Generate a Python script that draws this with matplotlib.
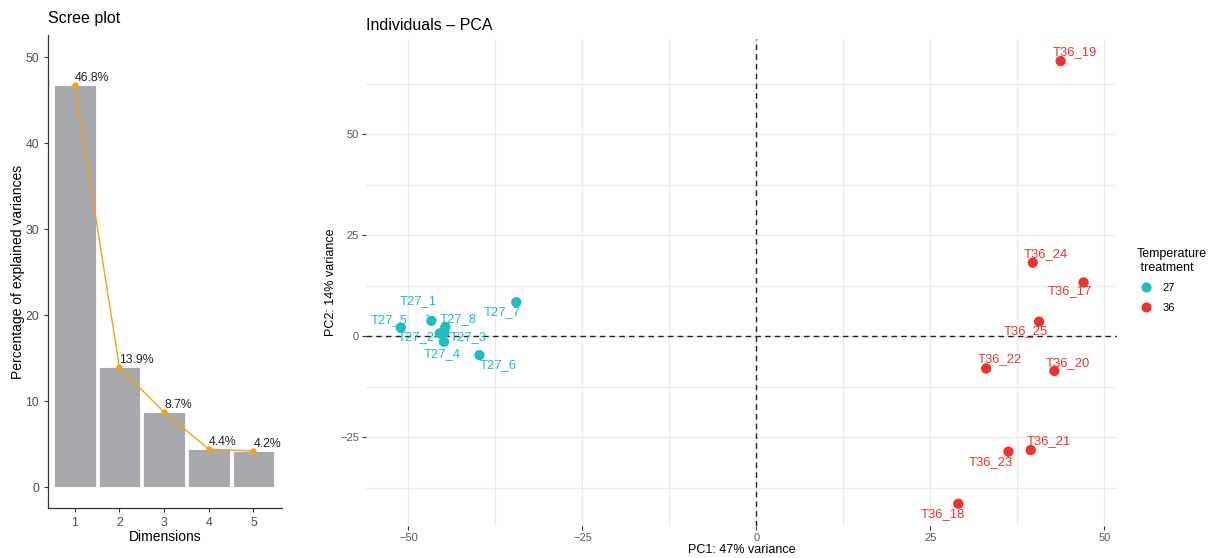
import matplotlib
matplotlib.use("Agg")
import matplotlib.pyplot as plt
from matplotlib.lines import Line2D

plt.rcParams['font.family'] = ['Liberation Sans', 'DejaVu Sans']

# Scree plot data
dims = [1, 2, 3, 4, 5]
explained = [46.8, 13.9, 8.7, 4.4, 4.2]

# PCA individuals
names = ['T27_1', 'T27_2', 'T27_3', 'T27_4', 'T27_5', 'T27_6', 'T27_7', 'T27_8',
         'T36_17', 'T36_18', 'T36_19', 'T36_20', 'T36_21', 'T36_22', 'T36_23', 'T36_24', 'T36_25']
pc1 = [-46.7, -45.5, -44.8, -44.9, -51.1, -39.8, -34.5, -44.7,
       47.0, 29.0, 43.7, 42.8, 39.4, 33.0, 36.2, 39.7, 40.6]
pc2 = [3.8, 0.7, 0.9, -1.4, 2.1, -4.7, 8.4, 2.3,
       13.3, -41.5, 68.1, -8.6, -28.2, -8.0, -28.6, 18.2, 3.6]
treatment = ['27'] * 8 + ['36'] * 9

colors = {'27': '#1DBDC2', '36': '#EE3230'}

# label offsets in pixels (repel-like placement)
label_off = {
    'T27_1': (-13, 20), 'T27_2': (-24, -4), 'T27_3': (24, -5), 'T27_4': (-2, -12),
    'T27_5': (-12, 8), 'T27_6': (19, -10), 'T27_7': (-14, -10), 'T27_8': (13, 8),
    'T36_17': (-14, -9), 'T36_18': (-15, -10), 'T36_19': (14, 9), 'T36_20': (13, 8),
    'T36_21': (18, 9), 'T36_22': (14, 9), 'T36_23': (-18, -10), 'T36_24': (13, 9),
    'T36_25': (-13, -9),
}

fig = plt.figure(figsize=(12.16, 5.58), dpi=100)

# ---- Scree plot ----
ax1 = fig.add_axes([48 / 1216, 1 - 508 / 558, 234 / 1216, 473 / 558])
ax1.bar(dims, explained, width=0.93, color='#A8A9AC', edgecolor='white', linewidth=0.6)
ax1.plot(dims, explained, color='#F5A01A', marker='o', markersize=3.5, linewidth=1)
for d, v in zip(dims, explained):
    ax1.annotate(f'{v}%', (d, v), xytext=(0, 1), textcoords='offset pixels',
                 ha='left', va='bottom', fontsize=8.8, color='#222222')
ax1.set_xlim(0.40, 5.64)
ax1.set_ylim(-2.44, 52.56)
ax1.set_xticks(dims)
ax1.set_yticks([0, 10, 20, 30, 40, 50])
for s in ['top', 'right']:
    ax1.spines[s].set_visible(False)
for s in ['left', 'bottom']:
    ax1.spines[s].set_color('#333333')
    ax1.spines[s].set_linewidth(0.9)
ax1.tick_params(labelsize=8.8, colors='#333333', labelcolor='#4D4D4D', length=3, width=0.8)
ax1.set_xlabel('Dimensions', fontsize=10, labelpad=1)
ax1.set_ylabel('Percentage of explained variances', fontsize=10, labelpad=0)
ax1.set_title('Scree plot', loc='left', fontsize=11.5, pad=9)

# ---- PCA individuals ----
ax2 = fig.add_axes([366 / 1216, 1 - 526 / 558, 751 / 1216, 486.7 / 558])
ax2.set_xlim(-56.1, 51.8)
ax2.set_ylim(-47.0, 73.5)
ax2.set_xticks([-50, -25, 0, 25, 50])
ax2.set_yticks([-25, 0, 25, 50])
ax2.set_xticks([-37.5, -12.5, 12.5, 37.5], minor=True)
ax2.set_yticks([-37.5, -12.5, 12.5, 37.5, 62.5], minor=True)
ax2.set_xticklabels(['\u221250', '\u221225', '0', '25', '50'])
ax2.set_yticklabels(['\u221225', '0', '25', '50'])
ax2.grid(True, which='both', color='#EBEBEB', linewidth=0.9)
ax2.set_axisbelow(True)
for s in ax2.spines.values():
    s.set_visible(False)
ax2.tick_params(which='major', labelsize=8, labelcolor='#5A5A5A', color='#333333', length=3, width=0.8, pad=2)
ax2.tick_params(which='minor', length=0)
ax2.axhline(0, color='#222222', linestyle=(0, (4, 3)), linewidth=1)
ax2.axvline(0, color='#222222', linestyle=(0, (4, 3)), linewidth=1)

for grp in ['27', '36']:
    xs = [x for x, t in zip(pc1, treatment) if t == grp]
    ys = [y for y, t in zip(pc2, treatment) if t == grp]
    ax2.scatter(xs, ys, s=55, color=colors[grp], edgecolors='none', zorder=3)

for n, x, y, t in zip(names, pc1, pc2, treatment):
    dx, dy = label_off[n]
    kw = {}
    if n == 'T27_1':
        kw['arrowprops'] = dict(arrowstyle='-', color=colors[t], lw=0.8, shrinkA=4, shrinkB=4)
    ax2.annotate(n, (x, y), xytext=(dx, dy), textcoords='offset pixels',
                 ha='center', va='center', fontsize=9.4, color=colors[t], zorder=4, **kw)

ax2.set_xlabel('PC1: 47% variance', fontsize=9, labelpad=1)
ax2.set_ylabel('PC2: 14% variance', fontsize=9, labelpad=2)
ax2.set_title('Individuals \u2013 PCA', loc='left', fontsize=11.5, pad=7)

handles = [Line2D([], [], marker='o', linestyle='', markersize=6.3, color=colors[g]) for g in ['27', '36']]
leg = ax2.legend(handles, ['27', '36'], title='Temperature\n treatment', loc='upper left',
                 bbox_to_anchor=(1137 / 1216, 1 - 248 / 558), bbox_transform=fig.transFigure,
                 frameon=False, fontsize=8, title_fontsize=9, handletextpad=0.7,
                 labelspacing=0.85, handlelength=1.6, borderpad=0, borderaxespad=0)
leg._legend_box.align = 'left'

fig.savefig('out.png', dpi=100)
